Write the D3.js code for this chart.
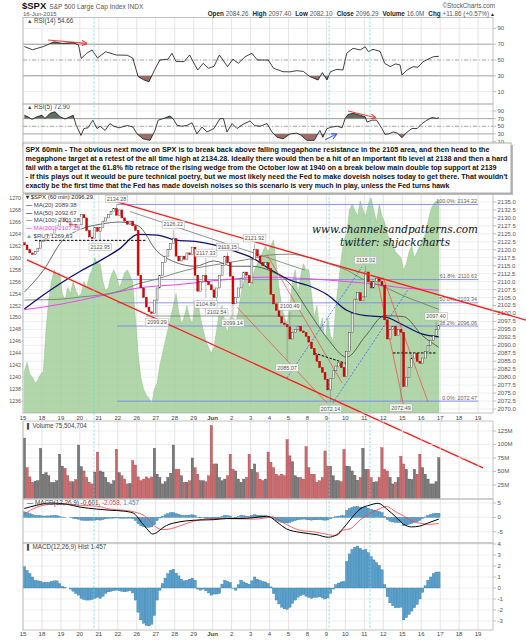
<!DOCTYPE html>
<html lang="en">
<head>
<meta charset="UTF-8">
<title>SPX 60min</title>
<script src="https://d3js.org/d3.v7.min.js"></script>
<style>
  body { margin:0; background:#fff; }
  text { font-family: 'Liberation Sans', Arial, sans-serif; }
  text.mark { font-family: 'DejaVu Serif', 'Liberation Serif', serif; font-style: italic; }
</style>
</head>
<body>
<script>
// ---------- data ----------
var dayLabels = ["15","18","19","20","21","22","26","27","28","29","Jun","2","3","4","5","8","9","10","11","12","15","16","17","18","19"];
var firstOpen = 2122.2;
// hourly closes, 7 bars per trading day (May 15 .. Jun 16)
var spxCloses = [
  [2121.5,2120,2119,2118.5,2119.5,2120.5,2122.7],
  [2123,2123.5,2124.5,2125,2126.5,2127.5,2129.2],
  [2130,2129,2128.5,2127.5,2128,2127,2127.8],
  [2131,2130,2126,2124,2123.5,2127,2125.8],
  [2127,2129,2130,2131,2132,2133,2130.8],
  [2132.5,2130,2129,2128,2129,2127.5,2126.1],
  [2112,2108,2105,2102,2100.5,2100,2104.2],
  [2108,2112,2116,2118,2120,2122,2123.5],
  [2118,2116.5,2118,2117,2119,2118.5,2120.8],
  [2112,2107,2110,2112,2110,2109,2107.4],
  [2105,2108,2112,2115,2118,2116,2111.7],
  [2103,2105,2108,2111,2113,2112,2109.6],
  [2117,2120,2118,2116,2115,2116,2114.1],
  [2106,2103,2101,2099,2097,2096.5,2095.8],
  [2092,2094,2095,2096,2094.5,2094,2092.8],
  [2091,2089,2087,2085,2083,2081.5,2079.3],
  [2076,2079.5,2082,2083.5,2084.5,2083,2080.2],
  [2088,2094,2100,2104.5,2106.5,2104,2105.2],
  [2113,2110,2108,2110,2111,2110,2108.9],
  [2098,2092,2095,2096,2093,2095,2094.1],
  [2077,2080,2083,2086,2087.5,2085,2084.4],
  [2086,2088,2090,2091.5,2093,2095,2096.3]
];
var rutValues = [
  [1241,1242.5,1240.5,1240,1239,1239.5,1240.5],
  [1241,1248,1253,1256,1258,1257,1257.5],
  [1254,1253,1255,1254,1256,1254.5,1253.5],
  [1254,1256,1255,1257,1258,1260,1259],
  [1259,1256,1254.5,1255,1257,1258,1257],
  [1255,1256,1257.5,1258,1257,1256,1250],
  [1244,1240,1238,1237,1236.5,1235.5,1238],
  [1239,1242,1244,1246,1248,1250,1252],
  [1254,1251,1249,1250,1252,1250,1249],
  [1252,1253,1250,1248,1246,1245,1244],
  [1245,1248,1251,1252,1249,1247.5,1250],
  [1250,1249,1251,1254,1256,1257,1255],
  [1256,1258,1259,1260,1261,1262,1261],
  [1262,1263,1259,1255,1252,1250,1249],
  [1252,1256,1258,1254,1257,1259,1258],
  [1258,1254,1250,1252,1248,1250,1246],
  [1250,1247,1246,1252,1256,1260,1263],
  [1264,1268,1269,1268,1267,1269.5,1268],
  [1267,1269,1270,1268,1266,1269,1267],
  [1266,1264,1263,1262,1261,1260.5,1260],
  [1258,1259,1261,1262,1260,1261,1262],
  [1263,1264,1266,1268,1269,1269.5,1269.63]
];
// volume in millions
var volumes = [
  [112,57,40,30,32,33,93],[45,48,42,30,30,33,82],[60,56,42,31,31,35,99],[59,51,39,30,27,49,86],
  [51,49,39,30,27,33,91],[48,42,36,27,28,70,62],[40,33,36,40,37,40,93],[45,39,27,31,39,47,99],
  [54,54,42,30,30,33,75],[57,45,33,33,31,42,135],[64,64,39,33,36,42,82],[54,51,36,30,36,39,82],
  [54,64,48,36,33,36,86],[67,57,45,42,45,42,109],[79,68,42,39,39,36,96],[57,45,45,30,33,39,88],
  [60,60,42,33,33,31,91],[60,59,51,43,34,39,93],[54,54,39,30,31,39,94],[54,51,39,27,30,39,78],
  [64,54,36,35,54,45,82],[57,45,36,27,27,31,75.5]
];
var macdHist = [
  [1.94,1.6,1.3,1.0,0.7,0.65,0.6],[0.5,0.5,0.5,0.6,0.65,0.65,0.4],[0.15,0.05,0,-0.1,-0.3,-0.5,-0.65],
  [-0.95,-1.05,-1.1,-1.1,-1.05,-0.95,-0.85],[-0.95,-0.75,-0.5,-0.35,-0.3,-0.25,-0.2],
  [-0.25,-0.3,-0.35,-0.3,-0.25,-0.45,-1.1],[-2.2,-2.9,-3.2,-3.4,-3.45,-3.3,-2.5],
  [-1.1,-0.2,0.4,0.9,1.3,1.6,1.7],[1.35,1.1,0.8,0.65,0.7,0.8,0.9],[0.7,-0.1,-0.2,-0.1,-0.25,-0.45,-0.65],
  [-0.55,-0.55,-0.5,0.35,0.7,0.6,0.5],[-0.03,-0.2,0.3,0.7,0.55,0.45,0.35],[0.65,1.0,0.8,0.7,0.6,0.55,0.4],
  [0.1,-0.5,-1.1,-1.45,-1.75,-1.9,-1.95],[-1.75,-1.4,-1.1,-0.85,-0.7,-0.6,-0.75],
  [-0.85,-0.95,-0.85,-0.85,-0.8,-0.9,-1.0],[-0.9,-0.5,-0.1,0.3,0.45,0.55,0.6],
  [2.4,3.1,3.5,3.7,3.8,3.6,3.45],[3.5,3.2,2.85,2.55,2.3,2.05,1.65],[0.3,-0.8,-1.35,-1.6,-1.8,-1.8,-1.75],
  [-2.9,-2.7,-2.4,-2.1,-1.8,-1.5,-1.0],[-0.4,0.2,0.7,1.0,1.3,1.45,1.457]
];
// [bar, value] readings
var ma20 = [[0,2106.7],[7,2113.5],[14,2122.8],[21,2126.5],[28,2128],[35,2128.7],[42,2127.5],[49,2119.5],[56,2116],[63,2114.8],[70,2116.5],[77,2114.8],[84,2114.8],[91,2113.3],[98,2109.3],[105,2100.5],[112,2092],[119,2086.3],[126,2093],[133,2099.3],[140,2099],[147,2093],[153,2089.38]];
var ma50 = [[0,2101.4],[7,2105.8],[14,2109.8],[21,2113.4],[28,2116.6],[35,2120.2],[42,2124.8],[49,2124.6],[56,2123],[63,2122.6],[70,2121.5],[77,2119.7],[84,2117.5],[91,2113.7],[98,2110.5],[105,2108.7],[112,2105.8],[119,2101],[126,2099.3],[133,2098.9],[140,2096.3],[147,2093.5],[153,2092.67]];
var ma100 = [[0,2104.2],[7,2104.3],[14,2104.5],[21,2105.2],[28,2105.8],[35,2107],[42,2109.3],[49,2110.8],[56,2112.7],[63,2114.2],[70,2115.2],[77,2116.2],[84,2117.2],[91,2118.4],[98,2118.6],[105,2117.6],[112,2115.7],[119,2113.6],[126,2110.3],[133,2108.3],[140,2105.5],[147,2103.2],[153,2101.28]];
var ma200 = [[0,2101.2],[7,2102],[14,2103],[21,2104.2],[28,2105.5],[35,2106.8],[42,2108],[49,2108.6],[56,2109],[63,2109.6],[70,2110.3],[77,2110.8],[84,2111.3],[91,2111.4],[98,2111.2],[105,2110.9],[112,2110.5],[119,2110],[126,2109.5],[133,2108.8],[140,2108],[147,2107.6],[153,2107.29]];
var rsi14 = [[0,67],[3,63],[7,67],[11,73],[14,71],[18,72],[20,69],[21,52],[23,58.5],[25,62.7],[27,52.5],[30,60.5],[34,56.3],[38,56],[40,52.5],[42,29],[44,25],[46,22.5],[48,37],[50,50],[53,51],[54.5,58.5],[56,48],[59,48],[61,56.3],[64,37.3],[66,45.8],[68,39.5],[70,42],[72,56.3],[75,41.6],[77,51],[79,45.8],[81.5,54.2],[84,58.5],[86,50],[90,50],[92,39.5],[95.5,35.2],[98,35],[100.6,36.5],[103,35.5],[105.4,29],[108.4,24.7],[110,34],[111.7,24.7],[113,35.2],[115.4,38.2],[117.6,37.3],[119,58.5],[121.3,64.8],[124,62.7],[125.8,66.8],[127,60.5],[128.7,63.5],[131.3,61],[133,45.8],[135,41.6],[137,45],[138.7,43.7],[139.4,31],[141.3,37.3],[143.5,41.6],[145.3,40.8],[147.2,47.9],[149,50.9],[151,54.2],[153,54.66]];
var rsi5 = [[0,79],[1.5,74],[2.8,68],[4.7,75],[6.5,79],[7.6,70.5],[9.5,84],[11.3,88],[13.2,75],[15,69],[16.9,75],[18,79],[19.1,53],[20.9,26],[22,44],[23.5,46],[25.3,66],[26.8,44],[28,50],[29.8,39],[31.6,57],[33,50],[35,46],[38,52],[40.1,48],[41.6,30],[43.8,17],[46.4,13],[48.2,39],[49.4,66],[51.2,70],[53.8,77],[54.9,70],[56.3,53],[58,50],[60,52],[61.9,59],[63.7,30],[65.6,48],[67.4,35],[70,44],[72.2,70],[73.5,70],[74.8,35],[76.7,57],[78.5,44],[80.7,55],[83.3,64],[85,52],[87,50],[89.6,57],[91.4,35],[93.3,21],[95.5,17],[98.1,30],[100.6,32],[102,27],[104.3,13],[107,13],[109.1,39],[110.2,21],[111.7,44],[113.6,48],[115.5,50],[117.3,46],[118.4,70],[119.5,81],[121.3,84],[123.9,79],[125.8,75],[126.5,61],[128.3,66],[130,66],[132,44],[133.1,29],[134.5,30],[136.1,35],[137.7,32],[139.4,20],[141.3,35],[143.1,44],[145,44],[146.8,57],[148.6,66],[150.5,73],[152.3,70.5],[153,72.9]];
var macdLine = [[0,3.1],[4.5,4.2],[9.5,5.0],[15.6,4.6],[20.5,3.6],[26.7,2.9],[31.6,2.5],[36.5,2.2],[40.2,1.5],[41.7,0.2],[43.3,-1.8],[45.1,-3.8],[47.4,-5.8],[48.8,-5.3],[50.7,-3.9],[52.5,-2.8],[55,-2.0],[59.9,-1.2],[64.8,-0.9],[69.7,-0.8],[74.7,-0.4],[79.6,-0.4],[84.5,-0.1],[89.4,0.4],[91.3,-0.2],[93.1,-1.5],[96.8,-4.0],[101.7,-5.2],[107.9,-6.0],[112.2,-6.9],[115.3,-6.0],[117.7,-3.8],[120.2,-0.9],[123.9,2.9],[127.6,4.3],[130.6,4.9],[133.7,3.0],[137.4,-0.1],[139.9,-2.3],[142.9,-3.3],[146,-3.0],[149.7,-1.7],[153,-0.601]];
var macdSignal = [[0,1.2],[4.5,3.5],[9.5,4.5],[15.6,4.6],[20.5,4.2],[26.7,3.9],[31.6,2.9],[36.5,2.5],[40.2,2.0],[41.7,1.6],[43.3,1.1],[45.1,0.0],[47.4,-2.4],[48.8,-3.5],[50.7,-4.2],[52.5,-4.2],[55,-3.7],[59.9,-2.1],[64.8,-0.8],[69.7,-0.3],[74.7,-0.4],[79.6,-0.5],[84.5,-0.6],[89.4,-0.1],[91.3,0.3],[93.1,-0.4],[96.8,-2.5],[101.7,-4.45],[107.9,-5.15],[112.2,-6.0],[115.3,-6.3],[117.7,-4.4],[120.2,-4.0],[123.9,-0.9],[127.6,1.3],[130.6,2.8],[133.7,3.8],[137.4,1.75],[139.9,0.6],[142.9,-1.2],[146,-2.0],[149.7,-2.4],[153,-2.058]];
// swing labels: [bar, price, text, side]
var swingTags = [
  [34,2134.28,"2134.28","up"],[28,2122.95,"2122.95","dn"],[49,2099.29,"2099.29","dn"],
  [55,2126.22,"2126.22","up"],[67,2117.33,"2117.33","up"],[75,2119.15,"2119.15","up"],
  [85,2121.92,"2121.92","up"],[67,2104.89,"2104.89","dn"],[71,2102.54,"2102.54","dn"],
  [77,2099.14,"2099.14","dn"],[98,2100.49,"2100.49","up"],[97,2085.07,"2085.07","dn"],
  [113,2072.14,"2072.14","dn"],[126,2115.02,"2115.02","up"],[139,2072.49,"2072.49","dn"],
  [152,2097.40,"2097.40","up"]
];
var fibLevels = [["100.0%",2134.22],["61.8%",2110.63],["50.0%",2103.34],["38.2%",2096.06],["0.0%",2072.47]];
var fibSpan = [34.2, 167.5];
// drawn trend lines: [bar1, price1, bar2, price2]
var megaphoneLines = [[34.2,2135,185.2,2097.9],[1,2116.8,169.3,2051.5]];
var thinRedLines = [[89.6,2118.4,117.3,2078.2],[78.5,2102,111.7,2071.9],[130.5,2109.9,140.5,2069.1],[132.4,2111.4,149,2072.2]];
var blueDashLines = [[96.9,2079.7,124.6,2114.6],[113.9,2071.9,141.6,2107.4]];
var grayLines = [[39,2132,103.6,2113.6],[45,2099.2,103,2099.2]];
var blackDashLines = [[3.9,2122.95,45.3,2122.95],[107,2087.6,119.1,2084.2],[136.1,2087.6,152.3,2087.6]];
var cyanMarks = [25.7, 112.5, 127.6];
var rsiArrows = [["rsi14",8.7,75.3,22.8,71,"#ff2020"],["rsi5",119.5,90,129.4,73,"#ff2020"],["rsi5",111,14.5,115,28.7,"#2040ff"]];
var noteLines = [
  "SPX 60min - The obvious next move on SPX is to break back above falling megaphone resistance in the 2105 area, and then head to the",
  "megaphone target at a retest of the all time high at 2134.28. Ideally there would then be a hit of an important fib level at 2138 and then a hard",
  "fail with a target at the 61.8% fib retrace of the rising wedge from the October low at 1940 on a break below main double top support at 2139",
  "- If this plays out it weould be pure technical poetry, but we most likely need the Fed to make doveish noises today to get there. That wouldn't",
  "exactly be the first time that the Fed has made doveish noises so this scenario is very much in play, unless the Fed turns hawk"
];
var noteWidths = [464, 482, 471, 482, 424];

// ---------- build bars ----------
var bars = [];
spxCloses.forEach(function(day, d) {
  day.forEach(function(c, k) {
    var i = d * 7 + k;
    bars.push({ i: i, c: c, o: i === 0 ? firstOpen : null, rut: rutValues[d][k], vol: volumes[d][k], hist: macdHist[d][k] });
  });
});
bars.forEach(function(b, i) { if (i > 0) b.o = bars[i - 1].c; });

// ---------- layout ----------
var width = 526, height = 640;
var left = 23, right = 493;
var svg = d3.select("body").append("svg").attr("width", width).attr("height", height).style("display", "block");
var x = d3.scaleLinear().domain([-0.5, 173]).range([left, right]);

var P = {
  rsi14: { top: 17.5, bottom: 104 },
  rsi5: { top: 104, bottom: 146 },
  main: { top: 194, bottom: 413 },
  vol: { top: 421, bottom: 499 },
  macd: { top: 499, bottom: 543 },
  hist: { top: 543, bottom: 630 }
};
var rsi14Y = d3.scaleLinear().domain([-5.7, 103.8]).range([104, 17.5]);
var rsi5Y = d3.scaleLinear().domain([-1.8, 108.4]).range([146, 104]);
var priceY = d3.scaleLinear().domain([2068.75, 2137.5]).range([413, 194]);
var rutY = d3.scaleLinear().domain([1234, 1270.67]).range([413, 194]);
var volY = d3.scaleLinear().domain([0, 143.5]).range([498.5, 421]);
var macdY = d3.scaleLinear().domain([-8.9, 6.4]).range([543, 499]);
var histY = d3.scaleLinear().domain([-3.82, 4.09]).range([630, 543]);

var defs = svg.append("defs");
function clipFor(name, p) {
  defs.append("clipPath").attr("id", "clip-" + name).append("rect")
    .attr("x", left).attr("y", p.top).attr("width", right - left).attr("height", p.bottom - p.top);
  return "url(#clip-" + name + ")";
}

function panelFrame(name, p, yScale, ticks, fmt, strongLines) {
  var g = svg.append("g");
  for (var d = 0; d <= 24; d++) {
    var gx = x(d * 7 - 0.5);
    g.append("line").attr("x1", gx).attr("x2", gx).attr("y1", p.top).attr("y2", p.bottom)
      .attr("stroke", "#dedede").attr("stroke-width", 0.8);
  }
  ticks.forEach(function(t) {
    var ty = yScale(t);
    g.append("line").attr("x1", left).attr("x2", right).attr("y1", ty).attr("y2", ty)
      .attr("stroke", "#e6e6e6").attr("stroke-width", 0.7);
    g.append("line").attr("x1", right).attr("x2", right + 3).attr("y1", ty).attr("y2", ty)
      .attr("stroke", "#999").attr("stroke-width", 0.6);
    g.append("text").attr("x", right + 4.5).attr("y", ty + 2).attr("font-size", 6).attr("fill", "#555").text(fmt(t));
  });
  (strongLines || []).forEach(function(s) {
    g.append("line").attr("x1", left).attr("x2", right).attr("y1", yScale(s[0])).attr("y2", yScale(s[0]))
      .attr("stroke", "#999").attr("stroke-width", 0.8).attr("stroke-dasharray", s[1]);
  });
  return g;
}

// ---------- RSI panels ----------
function rsiPanel(name, p, yScale, data, value, label) {
  panelFrame(name, p, yScale, [10, 30, 50, 70, 90], function(t) { return t; }, [[70, null], [30, null], [50, "4,2,1,2"]]);
  var cp = clipFor(name, p);
  defs.append("clipPath").attr("id", "hi-" + name).append("rect")
    .attr("x", left).attr("y", p.top).attr("width", right - left).attr("height", yScale(70) - p.top);
  defs.append("clipPath").attr("id", "lo-" + name).append("rect")
    .attr("x", left).attr("y", yScale(30)).attr("width", right - left).attr("height", p.bottom - yScale(30));
  var g = svg.append("g").attr("clip-path", cp);
  g.append("path").datum(data).attr("clip-path", "url(#hi-" + name + ")")
    .attr("d", d3.area().x(function(d) { return x(d[0]); }).y0(yScale(70)).y1(function(d) { return yScale(d[1]); }))
    .attr("fill", "#5f705f");
  g.append("path").datum(data).attr("clip-path", "url(#lo-" + name + ")")
    .attr("d", d3.area().x(function(d) { return x(d[0]); }).y0(yScale(30)).y1(function(d) { return yScale(d[1]); }))
    .attr("fill", "#9c6c66");
  g.append("path").datum(data)
    .attr("d", d3.line().x(function(d) { return x(d[0]); }).y(function(d) { return yScale(d[1]); }))
    .attr("fill", "none").attr("stroke", "#111").attr("stroke-width", 0.8);
  var t = svg.append("text").attr("x", left + 4).attr("y", p.top + 5).attr("font-size", 6.3).attr("fill", "#444");
  t.append("tspan").attr("font-size", 5.5).text("\u25B2 ");
  t.append("tspan").text(label + " " + value);
}
rsiPanel("rsi14", P.rsi14, rsi14Y, rsi14, "54.66", "RSI(14)");
rsiPanel("rsi5", P.rsi5, rsi5Y, rsi5, "72.90", "RSI(5)");

// arrows on RSI
defs.append("marker").attr("id", "arrowRed").attr("viewBox", "0 0 10 10").attr("refX", 8).attr("refY", 5)
  .attr("markerWidth", 5).attr("markerHeight", 5).attr("orient", "auto")
  .append("path").attr("d", "M0,0 L10,5 L0,10").attr("fill", "none").attr("stroke", "#ff2020").attr("stroke-width", 2);
defs.append("marker").attr("id", "arrowBlue").attr("viewBox", "0 0 10 10").attr("refX", 8).attr("refY", 5)
  .attr("markerWidth", 5).attr("markerHeight", 5).attr("orient", "auto")
  .append("path").attr("d", "M0,0 L10,5 L0,10").attr("fill", "none").attr("stroke", "#2040ff").attr("stroke-width", 2);
rsiArrows.forEach(function(a) {
  var ys = a[0] === "rsi14" ? rsi14Y : rsi5Y;
  svg.append("line").attr("x1", x(a[1])).attr("y1", ys(a[2])).attr("x2", x(a[3])).attr("y2", ys(a[4]))
    .attr("stroke", a[5]).attr("stroke-width", 1.1).attr("opacity", 0.85)
    .attr("marker-end", a[5] === "#2040ff" ? "url(#arrowBlue)" : "url(#arrowRed)");
});

// ---------- main price panel ----------
var mainTicks = d3.range(2070, 2135.1, 2.5);
panelFrame("main", P.main, priceY, mainTicks, function(t) { return t.toFixed(1); });
var rutTicks = d3.range(1236, 1270.1, 2);
rutTicks.forEach(function(t) {
  svg.append("text").attr("x", left - 2).attr("y", rutY(t) + 2).attr("text-anchor", "end")
    .attr("font-size", 5.3).attr("fill", "#555").text(t);
  svg.append("line").attr("x1", left - 1.5).attr("x2", left).attr("y1", rutY(t)).attr("y2", rutY(t)).attr("stroke", "#999").attr("stroke-width", 0.5);
});
var mainClip = clipFor("main", P.main);
var gm = svg.append("g").attr("clip-path", mainClip);

gm.append("path").datum(bars)
  .attr("d", d3.area().x(function(b) { return x(b.i); }).y0(P.main.bottom).y1(function(b) { return rutY(b.rut); }))
  .attr("fill", "#9fcd97").attr("fill-opacity", 0.82).attr("stroke", "#86bb7e").attr("stroke-width", 0.4);

// fib lines
fibLevels.forEach(function(f) {
  var fy = priceY(f[1]);
  gm.append("line").attr("x1", x(fibSpan[0])).attr("x2", x(fibSpan[1])).attr("y1", fy).attr("y2", fy)
    .attr("stroke", "#7d84f2").attr("stroke-width", 0.9);
  gm.append("text").attr("x", x(fibSpan[1]) - 1).attr("y", fy - 1.5).attr("text-anchor", "end")
    .attr("font-size", 5.4).attr("fill", "#666").text(f[0] + ": " + f[1].toFixed(2));
});

function seg(g, arr, color, w, dash) {
  arr.forEach(function(s) {
    g.append("line").attr("x1", x(s[0])).attr("y1", priceY(s[1])).attr("x2", x(s[2])).attr("y2", priceY(s[3]))
      .attr("stroke", color).attr("stroke-width", w).attr("stroke-dasharray", dash || null);
  });
}
seg(gm, grayLines, "#777", 0.8);

var maLine = d3.line().curve(d3.curveMonotoneX).x(function(d) { return x(d[0]); }).y(function(d) { return priceY(d[1]); });
[[ma200, "#ee44ee", 1], [ma100, "#6f826f", 0.9], [ma50, "#101070", 1.3], [ma20, "#444", 0.8]].forEach(function(m) {
  gm.append("path").datum(m[0]).attr("d", maLine).attr("fill", "none").attr("stroke", m[1]).attr("stroke-width", m[2]);
});

seg(gm, thinRedLines, "#ff4040", 0.7);
seg(gm, blueDashLines, "#3050ff", 0.7, "2,1.5");
seg(gm, blackDashLines, "#000", 1, "2.5,1.5");

// swing wicks
swingTags.forEach(function(t) {
  var b = bars[Math.min(t[0], bars.length - 1)];
  var edge = t[3] === "up" ? Math.max(b.o, b.c) : Math.min(b.o, b.c);
  gm.append("line").attr("x1", x(b.i)).attr("x2", x(b.i)).attr("y1", priceY(edge)).attr("y2", priceY(t[1]))
    .attr("stroke", "#777").attr("stroke-width", 0.5);
});

// candles
bars.forEach(function(b) {
  var up = b.c >= b.o;
  var y1 = priceY(Math.max(b.o, b.c)), y2 = priceY(Math.min(b.o, b.c));
  gm.append("rect").attr("x", x(b.i) - 0.95).attr("y", y1).attr("width", 1.9).attr("height", Math.max(0.8, y2 - y1))
    .attr("fill", up ? "#fff" : "#e00000").attr("stroke", up ? "#333" : "#b00000").attr("stroke-width", 0.45);
});

// megaphone lines (run past the panel like the original)
seg(svg, megaphoneLines, "#ff1a1a", 1.3);

// swing tags
swingTags.forEach(function(t) {
  var py = priceY(t[1]);
  var cy = t[3] === "up" ? py - 5.5 : py + 6.5;
  var txt = svg.append("text").attr("x", x(t[0])).attr("y", cy + 2).attr("text-anchor", "middle")
    .attr("font-size", 5.4).attr("fill", "#555").text(t[2]);
  var w = txt.node().getComputedTextLength();
  svg.insert("rect", function() { return txt.node(); }).attr("x", x(t[0]) - w / 2 - 1.5).attr("y", cy - 3.6)
    .attr("width", w + 3).attr("height", 7.4).attr("fill", "#fff").attr("fill-opacity", 0.85)
    .attr("stroke", "#aaa").attr("stroke-width", 0.5);
});

// watermark
svg.append("text").attr("class", "mark").attr("x", 312).attr("y", 232.5)
  .attr("font-size", 11).attr("textLength", 166).attr("lengthAdjust", "spacingAndGlyphs").attr("fill", "#111")
  .text("www.channelsandpatterns.com");
svg.append("text").attr("class", "mark").attr("x", 340).attr("y", 245.5)
  .attr("font-size", 11).attr("textLength", 110).attr("lengthAdjust", "spacingAndGlyphs").attr("fill", "#111")
  .text("twitter: shjackcharts");

// main legend
var legend = [
  ["\u25BE", "$SPX (60 min) 2096.29", "#222", "#222"],
  ["\u2014", "MA(20) 2089.38", "#444", "#444"],
  ["\u2014", "MA(50) 2092.67", "#101070", "#444"],
  ["\u2014", "MA(100) 2101.28", "#6f826f", "#444"],
  ["\u2014", "MA(200) 2107.29", "#ee44ee", "#ee44ee"],
  ["\u25B2", "$RUT 1269.63", "#6fae66", "#444"]
];
legend.forEach(function(l, k) {
  var ly = 199 + k * 7.8;
  var t = svg.append("text").attr("x", 26).attr("y", ly).attr("font-size", 6).attr("fill", l[3]);
  t.append("tspan").attr("fill", l[2]).attr("font-weight", "bold").text(l[0] + " ");
  t.append("tspan").text(l[1]);
  var w = t.node().getComputedTextLength();
  svg.insert("rect", function() { return t.node(); }).attr("x", 25).attr("y", ly - 5.5).attr("width", w + 2).attr("height", 7)
    .attr("fill", "#fff").attr("fill-opacity", 0.55);
});

// date axis under main
function dateAxis(yText) {
  dayLabels.forEach(function(lab, d) {
    svg.append("text").attr("x", x(d * 7 - 0.5)).attr("y", yText).attr("text-anchor", "middle")
      .attr("font-size", 6).attr("fill", "#444").attr("font-weight", lab === "Jun" ? "bold" : null).text(lab);
  });
}
dateAxis(419.5);

// ---------- volume ----------
panelFrame("vol", P.vol, volY, [25, 50, 75, 100, 125], function(t) { return t + "M"; });
var gv = svg.append("g").attr("clip-path", clipFor("vol", P.vol));
bars.forEach(function(b, i) {
  var down = i > 0 && b.c < bars[i - 1].c;
  gv.append("rect").attr("x", x(b.i) - 1.15).attr("y", volY(b.vol)).attr("width", 2.3).attr("height", volY(0) - volY(b.vol))
    .attr("fill", down ? "#cc6a6e" : "#7a7a7a").attr("stroke", down ? "#a33a40" : "#4a4a4a").attr("stroke-width", 0.35);
});
var vt = svg.append("text").attr("x", left + 4).attr("y", P.vol.top + 6.5).attr("font-size", 6.3).attr("fill", "#444");
vt.append("tspan").attr("font-size", 5.5).text("\u258C ");
vt.append("tspan").text("Volume 75,504,704");

// ---------- MACD ----------
panelFrame("macd", P.macd, macdY, [-5, 0, 5], function(t) { return t; });
var gc = svg.append("g").attr("clip-path", clipFor("macd", P.macd));
bars.forEach(function(b) {
  var y0 = macdY(0), y1 = macdY(b.hist);
  gc.append("rect").attr("x", x(b.i) - 1.2).attr("y", Math.min(y0, y1)).attr("width", 2.4).attr("height", Math.abs(y1 - y0))
    .attr("fill", "#5aa2cd").attr("stroke", "#2d72a3").attr("stroke-width", 0.35);
});
var mLine = d3.line().curve(d3.curveMonotoneX).x(function(d) { return x(d[0]); }).y(function(d) { return macdY(d[1]); });
gc.append("path").datum(macdSignal).attr("d", mLine).attr("fill", "none").attr("stroke", "#ff3b3b").attr("stroke-width", 0.8);
gc.append("path").datum(macdLine).attr("d", mLine).attr("fill", "none").attr("stroke", "#000").attr("stroke-width", 1);
var mt = svg.append("text").attr("x", left + 4).attr("y", P.macd.top + 5.5).attr("font-size", 6.3).attr("fill", "#444");
mt.append("tspan").text("\u2014 MACD(12,26,9) ");
mt.append("tspan").text("-0.601, ");
mt.append("tspan").attr("fill", "#ff3b3b").text("-2.058, ");
mt.append("tspan").attr("fill", "#3a8cc0").text("1.457");

// ---------- MACD histogram ----------
panelFrame("hist", P.hist, histY, [-3, -2, -1, 0, 1, 2, 3, 4], function(t) { return t; });
var gh = svg.append("g").attr("clip-path", clipFor("hist", P.hist));
bars.forEach(function(b) {
  var y0 = histY(0), y1 = histY(b.hist);
  gh.append("rect").attr("x", x(b.i) - 1.25).attr("y", Math.min(y0, y1)).attr("width", 2.5).attr("height", Math.abs(y1 - y0))
    .attr("fill", "#5aa2cd").attr("stroke", "#2d72a3").attr("stroke-width", 0.35);
});
var ht = svg.append("text").attr("x", left + 4).attr("y", P.hist.top + 5.5).attr("font-size", 6.3).attr("fill", "#444");
ht.append("tspan").attr("font-size", 5.5).text("\u258C ");
ht.append("tspan").text("MACD(12,26,9) Hist 1.457");
dateAxis(636);

// cyan event marks
cyanMarks.forEach(function(b) {
  svg.append("line").attr("x1", x(b)).attr("x2", x(b)).attr("y1", P.rsi14.top).attr("y2", P.hist.bottom)
    .attr("stroke", "#59dede").attr("stroke-width", 0.8).attr("stroke-dasharray", "2,2");
});

// panel borders
[P.rsi14, P.rsi5, P.main, P.vol, P.macd, P.hist].forEach(function(p) {
  svg.append("rect").attr("x", left).attr("y", p.top).attr("width", right - left).attr("height", p.bottom - p.top)
    .attr("fill", "none").attr("stroke", "#b4b4b4").attr("stroke-width", 0.8);
});

// ---------- header ----------
var h1 = svg.append("text").attr("x", 22).attr("y", 9);
h1.append("tspan").attr("font-weight", "bold").attr("font-size", 9.5).attr("fill", "#111").text("$SPX");
h1.append("tspan").attr("font-size", 6.6).attr("fill", "#555").attr("dx", 3).text("S&P 500 Large Cap Index INDX");
svg.append("text").attr("x", 23).attr("y", 15.5).attr("font-size", 6).attr("fill", "#555").text("16-Jun-2015");
svg.append("text").attr("x", 495).attr("y", 8).attr("text-anchor", "end").attr("font-size", 6.3).attr("fill", "#555")
  .text("\u00A9StockCharts.com");
var ohlc = [["Open", "2084.26"], ["High", "2097.40"], ["Low", "2082.10"], ["Close", "2096.29"], ["Volume", "16.0M"], ["Chg", "+11.86 (+0.57%)"]];
var oh = svg.append("text").attr("x", 495).attr("y", 15.5).attr("text-anchor", "end").attr("font-size", 6.3);
ohlc.forEach(function(o, k) {
  oh.append("tspan").attr("font-weight", "bold").attr("fill", "#222").attr("dx", k ? 4 : 0).text(o[0]);
  oh.append("tspan").attr("fill", "#555").attr("dx", 2).text(o[1]);
});
oh.append("tspan").attr("fill", "#222").attr("font-size", 5).attr("dx", 1).text("\u25B2");

// ---------- commentary box ----------
svg.append("rect").attr("x", 25).attr("y", 145).attr("width", 488).attr("height", 50).attr("fill", "#bbb");
svg.append("rect").attr("x", 23).attr("y", 143).attr("width", 488).attr("height", 50)
  .attr("fill", "#fff").attr("stroke", "#999").attr("stroke-width", 0.8);
noteLines.forEach(function(line, k) {
  svg.append("text").attr("x", 25.5).attr("y", 152 + k * 8.9).attr("font-size", 7.3).attr("font-weight", "bold")
    .attr("fill", "#111").attr("textLength", noteWidths[k]).attr("lengthAdjust", "spacingAndGlyphs").text(line);
});
</script>
</body>
</html>
